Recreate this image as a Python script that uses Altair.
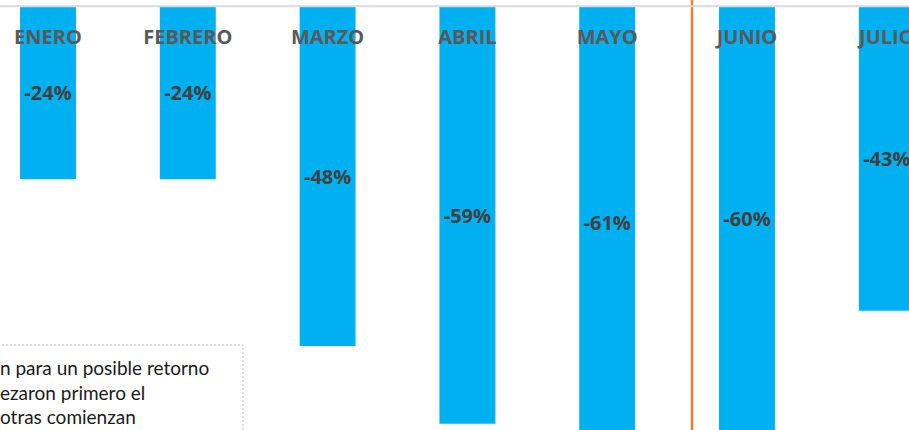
import altair as alt
import pandas as pd

# Data
months = ["ENERO", "FEBRERO", "MARZO", "ABRIL", "MAYO", "JUNIO", "JULIO"]
values = [-24.4, -24.4, -48, -59, -61, -60, -43]
labels = ["-24%", "-24%", "-48%", "-59%", "-61%", "-60%", "-43%"]
marker_month = ["JUNIO"]
note_lines = ["n para un posible retorno", "ezaron primero el", "otras comienzan"]

df = pd.DataFrame({"mes": months, "valor": values, "etiqueta": labels})
df["medio"] = df["valor"] / 2

W, H = 909, 430

x_scale = alt.Scale(domain=months, range=[-21.9, 956.7], paddingInner=0.6, paddingOuter=0.3)
y_scale = alt.Scale(domain=[-59.87, 0.948], nice=False, zero=False)

x_axis = alt.Axis(
    orient="bottom", offset=-424.3, title=None, ticks=False, grid=False,
    domainColor="#d9d9d9", domainWidth=2, labelAngle=0,
    labelFont="Open Sans", labelFontWeight="bold", labelFontSize=20,
    labelColor="#595959", labelPadding=31.8, labelBaseline="middle",
    labelOverlap=False, zindex=1,
)

base = alt.Chart(df)

bars = base.mark_bar(color="#00B0F0", clip=True).encode(
    x=alt.X("mes:N", sort=months, scale=x_scale, axis=x_axis),
    y=alt.Y("valor:Q", scale=y_scale, axis=None),
)

texts = base.mark_text(
    font="Open Sans", fontWeight="bold", fontSize=20, color="#404040",
    baseline="middle", dy=1.5,
).encode(
    x=alt.X("mes:N", sort=months, scale=x_scale),
    y=alt.Y("medio:Q", scale=y_scale),
    text="etiqueta:N",
)

# vertical marker just before the JUNIO bar
rule = alt.Chart(pd.DataFrame({"mes": marker_month})).mark_rule(
    color="#ED7D31", strokeWidth=2.5, xOffset=-27
).encode(
    x=alt.X("mes:N", sort=months, scale=x_scale, bandPosition=0),
)

note_df = pd.DataFrame({"k": [0]})
box = alt.Chart(note_df).mark_rect(
    fill="white", stroke="#bfbfbf", strokeDash=[2, 2], strokeWidth=1
).encode(
    x=alt.value(-10), x2=alt.value(243), y=alt.value(345), y2=alt.value(450)
)
note = alt.Chart(note_df).mark_text(
    align="left", baseline="alphabetic", font="Lato", fontSize=19,
    color="#1a1a1a", lineHeight=24.7,
).encode(
    x=alt.value(0), y=alt.value(375), text=alt.value(note_lines)
)

chart = alt.layer(bars, texts, rule, box, note).properties(
    width=W, height=H, autosize=alt.AutoSizeParams(type="none"), padding=0,
    background="white",
).configure_view(stroke=None)

chart.save("out.html", embed_options={"renderer": "svg", "actions": False})
